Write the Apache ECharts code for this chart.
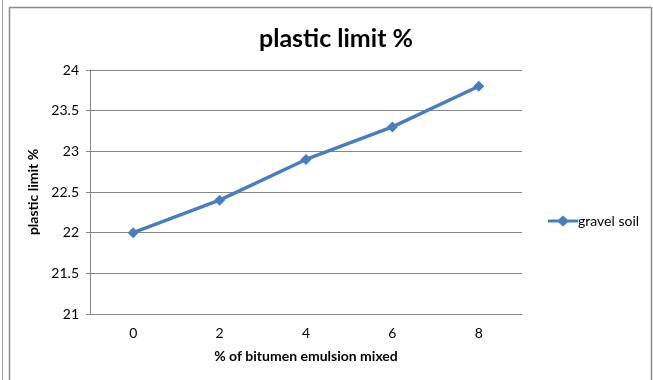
<!DOCTYPE html>
<html><head><meta charset="utf-8">
<script src="https://cdn.jsdelivr.net/npm/echarts@6/dist/echarts.min.js"></script>
<style>html,body{margin:0;padding:0;background:#fff}#c{width:653px;height:380px}</style>
</head><body><div id="c"></div>
<script>
const categories = ['0', '2', '4', '6', '8'];
const gravelSoil = [22, 22.4, 22.9, 23.3, 23.8];
const yTicks = [21, 21.5, 22, 22.5, 23, 23.5, 24];

const FONT = 'Lato';
const chart = echarts.init(document.getElementById('c'));
chart.setOption({
  animation: false,
  backgroundColor: '#fff',
  graphic: [
    { type: 'line', shape: { x1: 2.5, y1: 0, x2: 2.5, y2: 380 }, style: { stroke: '#a0a0a0', lineWidth: 1 } },
    { type: 'polyline', shape: { points: [[9.5, 380], [9.5, 7.5], [651.5, 7.5], [651.5, 380]] }, style: { stroke: '#8c8c8c', lineWidth: 1.5, fill: null } }
  ],
  title: {
    text: 'plastic limit %', left: 331, top: 21, textAlign: 'center',
    textStyle: { fontFamily: FONT, fontSize: 25, fontWeight: 'bold', color: '#000' }
  },
  legend: {
    left: 543, top: 209, itemWidth: 30, itemHeight: 11, itemGap: 2,
    textStyle: { fontFamily: FONT, fontSize: 14, color: '#000', padding: [0, 0, 0, -5] },
    data: [{ name: 'gravel soil', icon: 'path://M0,4 L10.5,4 L15,0 L19.5,4 L30,4 L30,7 L19.5,7 L15,11 L10.5,7 L0,7 Z' }]
  },
  grid: { left: 90, right: 131, top: 70, bottom: 66 },
  xAxis: {
    type: 'category', data: categories, boundaryGap: true,
    name: '% of bitumen emulsion mixed', nameLocation: 'middle', nameGap: 35,
    nameTextStyle: { fontFamily: FONT, fontSize: 14, fontWeight: 'bold', color: '#000' },
    axisLine: { lineStyle: { color: '#868686', width: 1 } },
    axisTick: { show: false },
    axisLabel: { fontFamily: FONT, fontSize: 14, color: '#000', margin: 12 }
  },
  yAxis: {
    type: 'value', min: yTicks[0], max: yTicks[yTicks.length - 1], interval: 0.5,
    name: 'plastic limit %', nameLocation: 'middle', nameGap: 46,
    nameTextStyle: { fontFamily: FONT, fontSize: 14, fontWeight: 'bold', color: '#000' },
    axisLine: { show: true, lineStyle: { color: '#868686', width: 1 } },
    axisTick: { show: true, length: 4, lineStyle: { color: '#868686' } },
    splitLine: { lineStyle: { color: '#868686', width: 1 } },
    axisLabel: { fontFamily: FONT, fontSize: 14, color: '#000', margin: 11 }
  },
  series: [{
    name: 'gravel soil', type: 'line', data: gravelSoil,
    symbol: 'diamond', symbolSize: 11,
    lineStyle: { color: '#4a7ebb', width: 3.5 },
    itemStyle: { color: '#4a7ebb' }
  }]
});
</script></body></html>
